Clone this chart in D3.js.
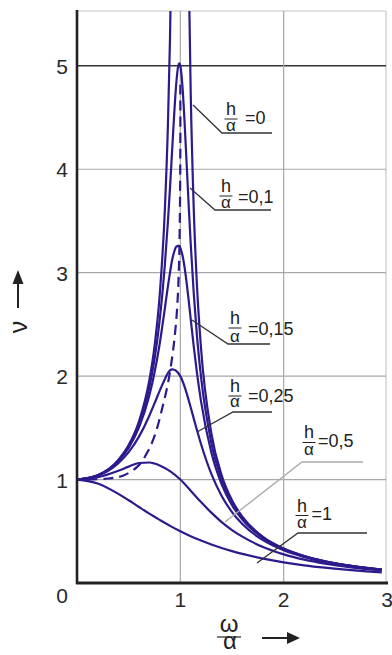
<!DOCTYPE html>
<html><head><meta charset="utf-8">
<script src="https://cdn.jsdelivr.net/npm/d3@7"></script>
<style>html,body{margin:0;padding:0;background:#fff;} svg{display:block;}</style>
</head><body>
<svg id="chart" width="392" height="655"></svg>
<script>
// ---------- data ----------
const xTicks = [1, 2, 3];
const yTicks = [1, 2, 3, 4, 5];

const xFine = [0, 0.2, 0.4, 0.5, 0.6, 0.7, 0.75, 0.8, 0.85, 0.88, 0.9, 0.92, 0.94, 0.96, 0.98, 0.99, 1.0,
  1.02, 1.04, 1.06, 1.08, 1.1, 1.13, 1.16, 1.2, 1.3, 1.4, 1.5, 1.6, 1.8, 2.0, 2.2, 2.4, 2.6, 2.8, 2.95];
const xCoarse = [0, 0.2, 0.4, 0.5, 0.6, 0.7, 0.75, 0.8, 0.9, 1.0, 1.1, 1.2, 1.3, 1.4, 1.5, 1.6, 1.8, 2.0, 2.2, 2.4, 2.6, 2.8, 2.95];

// h/α = 0 (two branches, going off the top)
const h0LeftX = [0, 0.2, 0.4, 0.5, 0.6, 0.7, 0.75, 0.8, 0.85, 0.88, 0.9, 0.92];
const h0LeftY = [1, 1.042, 1.190, 1.333, 1.563, 1.961, 2.286, 2.778, 3.604, 4.433, 5.263, 6.51];
const h0RightX = [1.08, 1.1, 1.13, 1.16, 1.2, 1.3, 1.4, 1.5, 1.6, 1.8, 2.0, 2.2, 2.4, 2.6, 2.8, 2.95];
const h0RightY = [6.01, 4.762, 3.611, 2.894, 2.273, 1.449, 1.042, 0.8, 0.641, 0.446, 0.333, 0.260, 0.210, 0.174, 0.146, 0.130];

// h/α = 0,1
const h01Y = [1, 1.041, 1.185, 1.322, 1.536, 1.891, 2.162, 2.538, 3.073, 3.495, 3.821, 4.172, 4.522, 4.822, 5.001, 5.025, 5.0,
  4.809, 4.476, 4.075, 3.668, 3.288, 2.798, 2.402, 1.995, 1.356, 1.0, 0.778, 0.628, 0.441, 0.330, 0.259, 0.209, 0.173, 0.146, 0.129];
// h/α = 0,15
const h015Y = [1, 1.040, 1.179, 1.307, 1.504, 1.813, 2.033, 2.311, 2.654, 2.870, 3.0, 3.12, 3.20, 3.25, 3.26, 3.255, 3.24,
  3.17, 3.06, 2.91, 2.74, 2.557, 2.285, 2.039, 1.759, 1.262, 0.954, 0.753, 0.613, 0.434, 0.327, 0.257, 0.208, 0.172, 0.145, 0.129];
// h/α = 0,25
const h025Y = [1, 1.036, 1.158, 1.265, 1.415, 1.617, 1.736, 1.858, 1.970, 2.030, 2.055, 2.065, 2.062, 2.050, 2.030, 2.015, 2.0,
  1.955, 1.900, 1.838, 1.770, 1.699, 1.589, 1.481, 1.344, 1.055, 0.842, 0.686, 0.570, 0.414, 0.316, 0.250, 0.204, 0.169, 0.143, 0.128];
// h/α = 0,5
const h05Y = [1, 1.022, 1.085, 1.125, 1.160, 1.165, 1.155, 1.137, 1.082, 1.0, 0.893, 0.782, 0.680, 0.589, 0.512, 0.448,
  0.348, 0.277, 0.226, 0.188, 0.158, 0.135, 0.121];
// h/α = 1
const h1Y = [1, 0.962, 0.862, 0.8, 0.735, 0.671, 0.64, 0.610, 0.552, 0.5, 0.452, 0.410, 0.372, 0.338, 0.308, 0.281,
  0.236, 0.2, 0.171, 0.148, 0.129, 0.113, 0.103];

// dashed locus of maxima
const peakX = [0.1, 0.3, 0.45, 0.59, 0.69, 0.76, 0.82, 0.88, 0.93, 0.965, 0.985, 0.995, 1.0, 1.0];
const peakY = [1.0, 1.01, 1.04, 1.13, 1.28, 1.45, 1.67, 1.93, 2.25, 2.6, 3.0, 3.5, 4.2, 4.85];

const annotValues = ["0", "0,1", "0,15", "0,25", "0,5", "1"];

// ---------- layout ----------
const W = 392, H = 655;
const L = 77, R = 387, T = 11, B = 583;
const curveColor = "#2d1a8c";
const font = "'Liberation Sans', Arial, sans-serif";

const svg = d3.select("#chart");
svg.append("rect").attr("width", W).attr("height", H).attr("fill", "#fff");

const x = d3.scaleLinear().domain([0, 3]).range([L, R]);
const y = d3.scaleLinear().domain([0, 5.53]).range([B, T]);

// grid
const g = svg.append("g");
g.append("line").attr("x1", L).attr("x2", R - 1).attr("y1", T).attr("y2", T)
  .attr("stroke", "#c8c8c8").attr("stroke-width", 1.2);
g.append("line").attr("x1", R - 1).attr("x2", R - 1).attr("y1", T).attr("y2", B)
  .attr("stroke", "#c8c8c8").attr("stroke-width", 1.2);
yTicks.forEach(v => {
  g.append("line").attr("x1", L).attr("x2", R - 1).attr("y1", y(v)).attr("y2", y(v))
    .attr("stroke", v === 5 ? "#333" : "#a8a8a8").attr("stroke-width", v === 5 ? 1.5 : 1.2);
});
xTicks.filter(v => v < 3).forEach(v => {
  g.append("line").attr("x1", x(v)).attr("x2", x(v)).attr("y1", T).attr("y2", B)
    .attr("stroke", "#a8a8a8").attr("stroke-width", 1.2);
});

// curves
const clip = svg.append("clipPath").attr("id", "plotclip");
clip.append("rect").attr("x", L).attr("y", T).attr("width", R - L).attr("height", B - T);
const plot = svg.append("g").attr("clip-path", "url(#plotclip)");

const line = d3.line().x(d => x(d[0])).y(d => y(d[1])).curve(d3.curveMonotoneX);
const zip = (xs, ys) => xs.map((v, i) => [v, ys[i]]);

const series = [
  zip(h0LeftX, h0LeftY), zip(h0RightX, h0RightY),
  zip(xFine, h01Y), zip(xFine, h015Y), zip(xFine, h025Y),
  zip(xCoarse, h05Y), zip(xCoarse, h1Y)
];
plot.selectAll("path.curve").data(series).join("path")
  .attr("class", "curve").attr("d", line)
  .attr("fill", "none").attr("stroke", curveColor).attr("stroke-width", 2.2)
  .attr("stroke-linejoin", "round");

const dashLine = d3.line().x(d => x(d[0])).y(d => y(d[1])).curve(d3.curveCatmullRom.alpha(0.5));
plot.append("path").attr("d", dashLine(zip(peakX, peakY)))
  .attr("fill", "none").attr("stroke", curveColor).attr("stroke-width", 2.2)
  .attr("stroke-dasharray", "10,6");

// axes
svg.append("line").attr("x1", L).attr("x2", L).attr("y1", T - 1).attr("y2", B + 1)
  .attr("stroke", "#222").attr("stroke-width", 2.6);
svg.append("line").attr("x1", L - 1).attr("x2", R + 1).attr("y1", B).attr("y2", B)
  .attr("stroke", "#222").attr("stroke-width", 2.8);

// tick labels
svg.selectAll("text.yt").data(yTicks).join("text").attr("class", "yt")
  .attr("x", 68).attr("y", d => y(d) + 8).attr("text-anchor", "end")
  .attr("font-family", font).attr("font-size", 21).attr("fill", "#2a2a2a").text(d => d);
svg.append("text").attr("x", 68).attr("y", 603).attr("text-anchor", "end")
  .attr("font-family", font).attr("font-size", 21).attr("fill", "#2a2a2a").text("0");
svg.selectAll("text.xt").data(xTicks).join("text").attr("class", "xt")
  .attr("x", d => x(d)).attr("y", 607).attr("text-anchor", "middle")
  .attr("font-family", font).attr("font-size", 21).attr("fill", "#2a2a2a").text(d => d);

// y axis label ν with arrow
svg.append("text").attr("transform", "translate(27,327) rotate(-90)")
  .attr("text-anchor", "middle").attr("font-family", font).attr("font-size", 25)
  .attr("fill", "#222").text("ν");
svg.append("line").attr("x1", 18).attr("x2", 18).attr("y1", 308).attr("y2", 281)
  .attr("stroke", "#222").attr("stroke-width", 2);
svg.append("path").attr("d", "M18,270 L12.5,284 L23.5,284 Z").attr("fill", "#222");

// x axis label ω/α with arrow (one text, two stacked tspans)
const xl = svg.append("text").attr("text-anchor", "middle").attr("font-family", font)
  .attr("font-size", 24).attr("fill", "#222");
xl.append("tspan").attr("x", 229).attr("y", 632).text("ω");
xl.append("tspan").attr("x", 230).attr("y", 649).text("α");
svg.append("line").attr("x1", 217).attr("x2", 241).attr("y1", 637).attr("y2", 637)
  .attr("stroke", "#222").attr("stroke-width", 1.2);
svg.append("line").attr("x1", 262).attr("x2", 290).attr("y1", 638).attr("y2", 638)
  .attr("stroke", "#222").attr("stroke-width", 2);
svg.append("path").attr("d", "M300,638 L287,632 L287,644 Z").attr("fill", "#222");

// annotations
const annotLayout = [
  { hx: 231, hy: 115, barY: 119, ay: 130.5, ex: 245, ey: 123.5, pts: [[193, 105], [222, 133], [272, 133]], c: "#333" },
  { hx: 226, hy: 191.5, barY: 196, ay: 208, ex: 238, ey: 203, pts: [[190, 188], [215, 210], [271, 210]], c: "#333" },
  { hx: 235, hy: 323.5, barY: 328, ay: 342, ex: 248, ey: 335, pts: [[192, 320], [228, 344], [270, 344]], c: "#333" },
  { hx: 235, hy: 392, barY: 396, ay: 407, ex: 248, ey: 402, pts: [[197, 432], [233, 412], [272, 412]], c: "#333" },
  { hx: 309, hy: 438, barY: 442.5, ay: 455, ex: 318, ey: 447, pts: [[225, 522], [302, 462], [363, 462]], c: "#aaa" },
  { hx: 302, hy: 512, barY: 515.5, ay: 528, ex: 311.5, ey: 520, pts: [[257, 563], [298, 533], [367, 533]], c: "#333" }
];
annotValues.forEach((val, i) => {
  const a = annotLayout[i];
  const ga = svg.append("g");
  ga.append("path").attr("d", d3.line()(a.pts)).attr("fill", "none")
    .attr("stroke", a.c).attr("stroke-width", 1.3);
  ga.append("line").attr("x1", a.hx - 6.5).attr("x2", a.hx + 6.5).attr("y1", a.barY).attr("y2", a.barY)
    .attr("stroke", "#222").attr("stroke-width", 1);
  const t = ga.append("text").attr("font-family", font).attr("font-size", 18).attr("fill", "#222");
  t.append("tspan").attr("x", a.hx).attr("y", a.hy).attr("text-anchor", "middle").text("h");
  t.append("tspan").attr("x", a.hx).attr("y", a.ay).attr("text-anchor", "middle")
    .attr("font-size", 17).text("α");
  t.append("tspan").attr("x", a.ex).attr("y", a.ey).attr("text-anchor", "start").text("=" + val);
});
</script>
</body></html>
